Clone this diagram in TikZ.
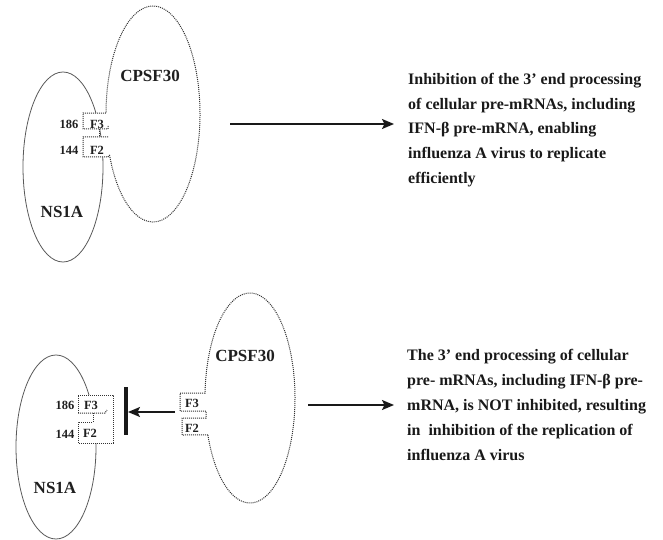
\documentclass[tikz,border=0pt]{standalone}
\usepackage{fontspec}
\setmainfont{Liberation Serif}
\usetikzlibrary{shapes.geometric,arrows.meta}
\begin{document}
\begin{tikzpicture}[x=1pt,y=1pt,
  lbl/.style={font=\bfseries\fontsize{17}{18}\selectfont, text=black!88, inner sep=0},
  sml/.style={font=\bfseries\fontsize{12.5}{13}\selectfont, text=black!88, inner sep=0},
  txt/.style={font=\bfseries\fontsize{16}{24.8}\selectfont, align=left, anchor=west, inner sep=0, text=black!90},
  solidell/.style={draw=black!65, line width=0.8pt, ellipse, inner sep=0},
  dots/.style={draw=black!80, line width=1pt, dash pattern=on 1pt off 1pt},
  arr/.style={line width=1.8pt, draw=black!90, -{Stealth[length=12pt,width=10pt,inset=2.5pt]}}]
\useasboundingbox (0,0) rectangle (663,-540);

% ---------- top panel ----------
\node[solidell, minimum width=80, minimum height=190] (ns1) at (63,-167) {};
\fill[white] (83,-113) rectangle (107,-129);
\fill[white] (83,-137) rectangle (108,-157);
\path (153,-114) ++(202.3:47 and 108) coordinate (c1a);
\draw[dots] (c1a) arc[start angle=202.3, end angle=539.5, x radius=47, y radius=108]
  -- (83,-113) -- (83,-129) -- (108,-129) -- (108,-125);
\draw[dots] (99,-129) -- (99,-137);
\draw[dots] (108,-137) -- (83,-137) -- (83,-157) -- (108,-157) -- (c1a);

\node[lbl] (cp1) at (150,-76) {CPSF30};
\node[lbl] (nl1) at (62,-212) {NS1A};
\node[sml] (n186a) at (69,-124) {186};
\node[sml] (f3a) at (97,-124) {F3};
\node[sml] (n144a) at (69,-150) {144};
\node[sml] (f2a) at (97,-150) {F2};

\coordinate (a1s) at (230,-124);
\coordinate (a1e) at (394,-124);
\draw[arr] (a1s) -- (a1e);

\node[txt] (t1) at (408,-130) {Inhibition of the 3’ end processing\\of cellular pre-mRNAs, including\\IFN-β pre-mRNA, enabling\\influenza A virus to replicate\\efficiently};

% ---------- bottom panel ----------
\node[solidell, minimum width=80, minimum height=184] (ns2) at (56,-447) {};
\fill[white] (78,-395) rectangle (113,-443);
\draw[dots] (78,-413) -- (78,-395) -- (113,-395) -- (113,-443) -- (78,-443) -- (78,-422) -- (93,-422) -- (93,-413);
\draw[dots] (78,-413) -- (105,-413) -- (107,-410);

\node[sml] (n186b) at (65,-405) {186};
\node[sml] (f3b) at (91,-405) {F3};
\node[sml] (n144b) at (65,-434) {144};
\node[sml] (f2b) at (90,-433) {F2};
\node[lbl] (nl2) at (55,-488) {NS1A};

\coordinate (bartop) at (126,-387);
\coordinate (barbot) at (126,-435);
\draw[line width=3.6pt, black!90] (bartop) -- (barbot);
\coordinate (b2s) at (175,-412);
\coordinate (b2e) at (128,-412);
\draw[arr] (b2s) -- (b2e);

\path (250,-398) ++(200.6:45 and 105) coordinate (c2a);
\draw[dots] (c2a) arc[start angle=200.6, end angle=537.3, x radius=45, y radius=105]
  -- (180,-393) -- (180,-411) -- (206,-411) -- (206,-418) -- (182,-418) -- (182,-435) -- (c2a);
\node[lbl] (cp2) at (245,-356) {CPSF30};
\node[sml] (f3c) at (192,-403) {F3};
\node[sml] (f2c) at (192,-428) {F2};

\coordinate (a2s) at (308,-405);
\coordinate (a2e) at (394,-405);
\draw[arr] (a2s) -- (a2e);

\node[txt] (t2) at (407,-405) {The 3’ end processing of cellular\\pre- mRNAs, including IFN-β pre-\\mRNA, is NOT inhibited, resulting\\in\ \ inhibition of the replication of\\influenza A virus};
\end{tikzpicture}
\end{document}
